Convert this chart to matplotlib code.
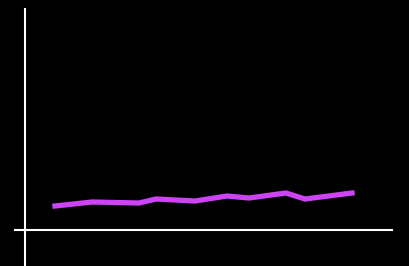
import matplotlib
matplotlib.use("Agg")
import matplotlib.pyplot as plt

# values (x offset from the y axis, y above the x axis)
x_vals = [30, 67, 114, 131, 170, 202, 224, 261, 280, 327]
y_vals = [24, 28, 27, 31, 29, 34, 32, 37, 31, 37]

fig = plt.figure(figsize=(4.1, 2.66), dpi=100, facecolor="black")
ax = fig.add_axes([0, 0, 1, 1], facecolor="black")

ax.plot(x_vals, y_vals, color="#cc44f5", linewidth=3.8, solid_joinstyle="miter")

ax.set_xlim(-25, 385)
ax.set_ylim(-36, 230)

for s in ["top", "right"]:
    ax.spines[s].set_visible(False)
ax.spines["left"].set_position(("data", 0))
ax.spines["bottom"].set_position(("data", 0))
ax.spines["left"].set_bounds(-36, 221)
ax.spines["bottom"].set_bounds(-10, 367)
for s in ["left", "bottom"]:
    ax.spines[s].set_color("white")
    ax.spines[s].set_linewidth(1.5)
ax.set_xticks([])
ax.set_yticks([])

fig.savefig("out.png", dpi=100, facecolor="black")
